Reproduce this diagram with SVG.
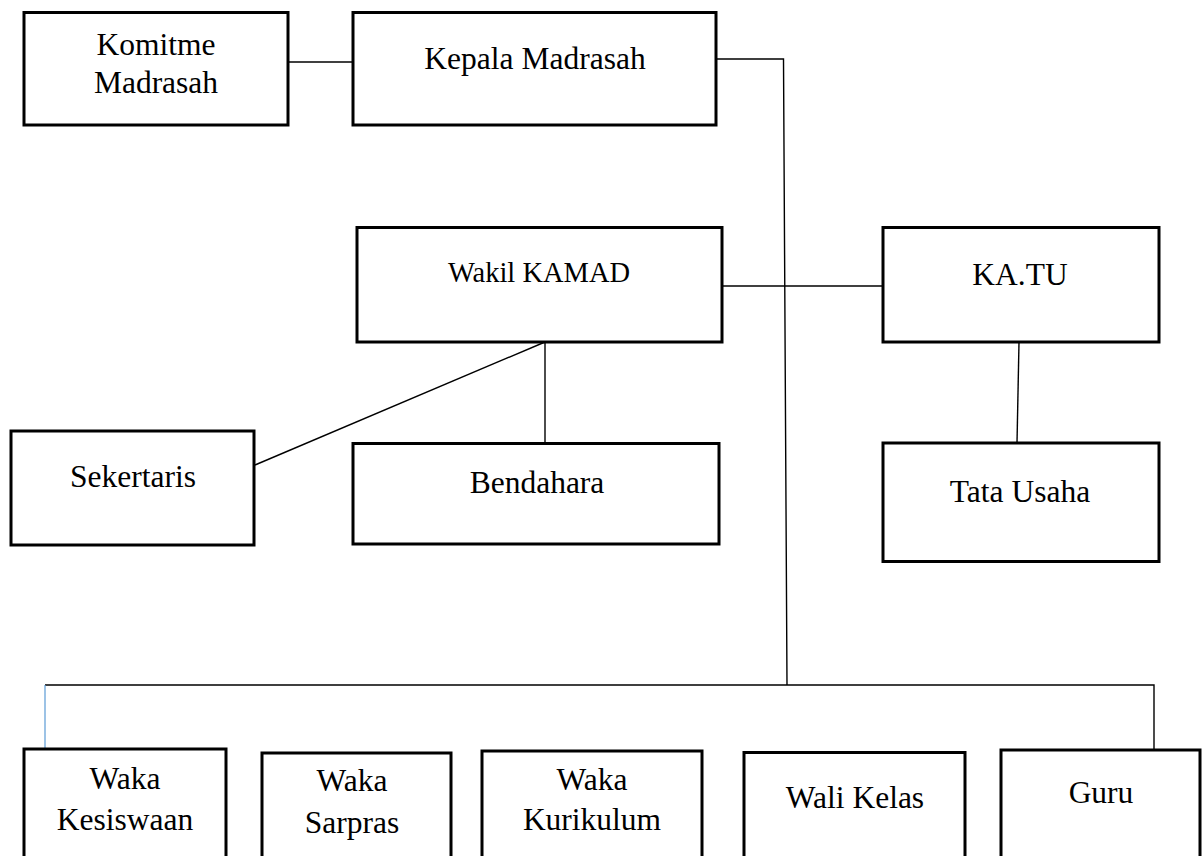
<svg xmlns="http://www.w3.org/2000/svg" width="1203" height="856" viewBox="0 0 1203 856">
<style>
.box{fill:#fff;stroke:#000;stroke-width:3}
.t{font-family:"Liberation Serif","Times New Roman",serif;font-size:31.5px;fill:#000;text-anchor:middle}
.c{fill:none;stroke:#000;stroke-width:1.4}
</style>
<rect width="1203" height="856" fill="#fff"/>
<g id="connectors">
<line class="c" x1="288" y1="62" x2="353" y2="62"/>
<polyline class="c" points="716,59 783.5,59 787,685"/>
<line class="c" x1="722" y1="286" x2="883" y2="286"/>
<line class="c" x1="1019" y1="342" x2="1017" y2="443"/>
<line class="c" x1="545" y1="342" x2="255" y2="465"/>
<line class="c" x1="545" y1="342" x2="545" y2="443"/>
<polyline class="c" points="45,685 1154,685 1154,750"/>
<line x1="45" y1="685" x2="45" y2="749" stroke="#5b9bd5" stroke-width="1.2"/>
</g>
<g id="komitme"><rect class="box" x="24" y="12.5" width="264" height="112.5"/><text class="t" x="156" y="55">Komitme</text><text class="t" x="156" y="93">Madrasah</text></g>
<g id="kepala"><rect class="box" x="353" y="12.5" width="363" height="112.5"/><text class="t" x="535" y="69">Kepala Madrasah</text></g>
<g id="wakil"><rect class="box" x="357" y="227.5" width="365" height="114.5"/><text class="t" x="539" y="282" style="font-size:28.5px">Wakil KAMAD</text></g>
<g id="katu"><rect class="box" x="883" y="227.5" width="276" height="114.5"/><text class="t" x="1020" y="285">KA.TU</text></g>
<g id="sekertaris"><rect class="box" x="11" y="431" width="243" height="114"/><text class="t" x="133" y="487">Sekertaris</text></g>
<g id="bendahara"><rect class="box" x="353" y="443.5" width="366" height="100.5"/><text class="t" x="537" y="493">Bendahara</text></g>
<g id="tatausaha"><rect class="box" x="883" y="443" width="276" height="118.5"/><text class="t" x="1020" y="502">Tata Usaha</text></g>
<g id="kesiswaan"><rect class="box" x="24" y="749" width="202" height="125"/><text class="t" x="125" y="789">Waka</text><text class="t" x="125" y="830">Kesiswaan</text></g>
<g id="sarpras"><rect class="box" x="262" y="753" width="189" height="125"/><text class="t" x="352" y="791">Waka</text><text class="t" x="352" y="833">Sarpras</text></g>
<g id="kurikulum"><rect class="box" x="482" y="751" width="220" height="125"/><text class="t" x="592" y="790">Waka</text><text class="t" x="592" y="830">Kurikulum</text></g>
<g id="walikelas"><rect class="box" x="744" y="752.5" width="221" height="125"/><text class="t" x="855" y="808">Wali Kelas</text></g>
<g id="guru"><rect class="box" x="1001" y="750" width="199" height="125"/><text class="t" x="1101" y="803">Guru</text></g>
</svg>
